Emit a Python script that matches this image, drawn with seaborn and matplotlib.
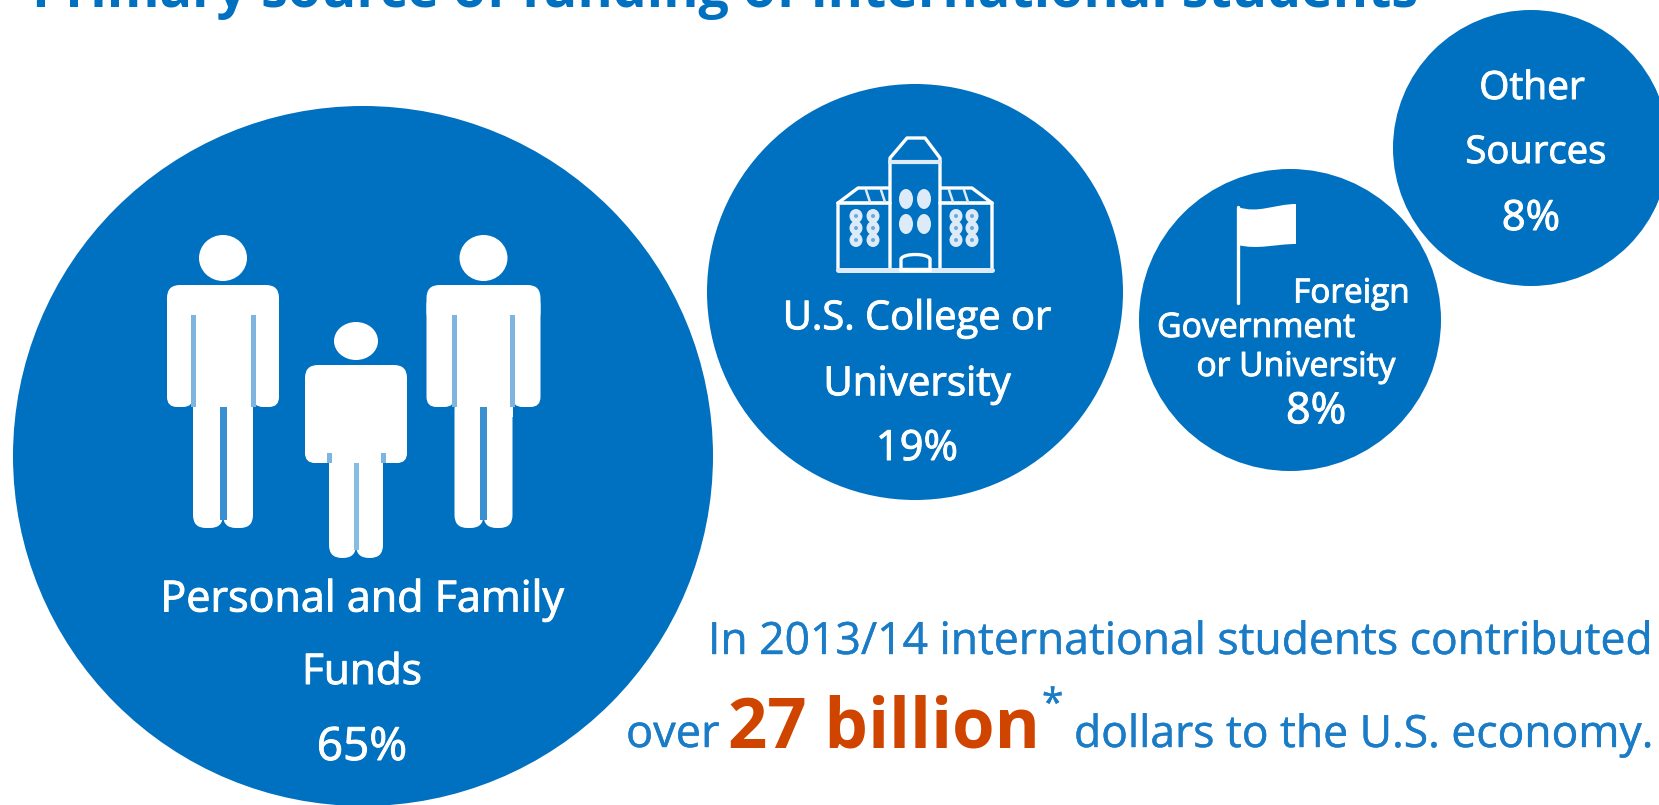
import matplotlib
matplotlib.use('Agg')
import matplotlib.patheffects as pe
import matplotlib.pyplot as plt
import pandas as pd
import seaborn as sns
from matplotlib.patches import Ellipse, FancyBboxPatch, PathPatch, Polygon, Rectangle
from matplotlib.path import Path

# Values
sources = ['Personal and Family Funds', 'U.S. College or University',
           'Foreign Government or University', 'Other Sources']
shares = [65, 19, 8, 8]
title = 'Primary source of funding of international students'
contrib_line1 = 'In 2013/14 international students contributed'
contrib_over = 'over'
contrib_amount = '27 billion'
contrib_rest = 'dollars to the U.S. economy.'

# Layout, in pixels of the 1659x805 picture
bubble_x = [363, 915, 1290, 1531]
bubble_y = [456, 292, 320, 148]
bubble_r = [350, 208, 151, 138]

BLUE = '#0070c0'
TEXT_BLUE = '#1a7cc6'
ORANGE = '#cf4500'
SLIT = '#7db5e0'
PALE = '#dcebf7'
FONT = 'Open Sans'
DPI = 100

sns.set_theme(style='white')
plt.rcParams['font.family'] = [FONT, 'DejaVu Sans']

df = pd.DataFrame({'source': sources, 'share': shares, 'x': bubble_x, 'y': bubble_y, 'r': bubble_r})
df['area'] = (2 * df['r'] * 72 / DPI) ** 2

fig = plt.figure(figsize=(16.59, 8.05), dpi=DPI)
ax = fig.add_axes([0, 0, 1, 1])
sns.scatterplot(data=df, x='x', y='y', s=df['area'].values, color=BLUE, linewidth=0, legend=False, ax=ax)
ax.set_xlim(0, 1659)
ax.set_ylim(805, 0)
ax.set_xlabel('')
ax.set_ylabel('')
ax.axis('off')


def label(x, y, s, size=29, color='white', ha='center', va='center', weight='normal', stroke=0.7):
    t = ax.text(x, y, s, fontsize=size, color=color, ha=ha, va=va, fontweight=weight)
    if stroke:
        t.set_path_effects([pe.withStroke(linewidth=stroke, foreground=color)])


def rbox(x0, y0, x1, y1, r, fc='white'):
    ax.add_patch(FancyBboxPatch((x0, y0), x1 - x0, y1 - y0, boxstyle=f'round,pad=0,rounding_size={r}', fc=fc, ec='none'))


def person(cx, head_y, head_rx, head_ry, half_w, leg_half, top, slit_top, arm_bottom, bottom, gap_w, gap_color):
    ax.add_patch(Ellipse((cx, head_y), 2 * head_rx, 2 * head_ry, fc='white', ec='none'))
    rbox(cx - half_w, top, cx + half_w, slit_top + 10, 13)
    rbox(cx - half_w, top + 10, cx - leg_half, arm_bottom, 10)
    rbox(cx + leg_half, top + 10, cx + half_w, arm_bottom, 10)
    ax.add_patch(Rectangle((cx - leg_half, top + 10), 2 * leg_half, arm_bottom - top, fc='white', ec='none'))
    rbox(cx - leg_half, arm_bottom - 10, cx, bottom, 13)
    rbox(cx, arm_bottom - 10, cx + leg_half, bottom, 13)
    ax.add_patch(Rectangle((cx - gap_w / 2, arm_bottom), gap_w, bottom - arm_bottom - 8, fc=gap_color, ec='none'))
    for side in (-1, 1):
        ax.add_patch(Rectangle((cx + side * leg_half - 2.5, slit_top), 5, arm_bottom - slit_top, fc=SLIT, ec='none'))


person(223, 258, 24, 23, 56, 30, 285, 315, 407, 528, 7, '#3a8fd0')
person(483.5, 258, 24, 23, 57, 29, 285, 315, 407, 528, 7, '#3a8fd0')
person(356, 341, 22, 19, 51, 27, 365, 453, 463, 558, 5, '#86bbe4')

# building icon
line = dict(fc='none', ec='white', lw=2.4, joinstyle='round')
ax.add_patch(Polygon([(838, 270), (838, 203), (858, 188), (892, 188), (892, 270)], closed=True, **line))
ax.add_patch(Polygon([(992, 270), (992, 203), (972, 188), (938, 188), (938, 270)], closed=True, **line))
ax.add_patch(Polygon([(890, 270), (890, 158), (907, 138), (925, 138), (940, 158), (940, 270)], closed=True,
                     fc=BLUE, ec='white', lw=2.4, joinstyle='round'))
ax.plot([890, 940], [162, 162], color=PALE, lw=3)
ax.plot([838, 890], [203, 203], color='white', lw=2.6)
ax.plot([940, 992], [203, 203], color='white', lw=2.6)
ax.plot([838, 992], [270, 270], color=PALE, lw=3.6)
for tx in (866, 881, 949, 964):
    ax.plot([tx, tx + 4], [190, 202], color=PALE, lw=1.8)
for wx in (856, 873, 956, 972):
    for wy in (216, 228, 240):
        ax.add_patch(Ellipse((wx, wy), 13, 14, fc=PALE, ec='none'))
        ax.add_patch(Ellipse((wx, wy), 4, 4, fc='#6aa9dc', ec='none'))
for wx in (906, 924):
    for wy in (199, 224):
        ax.add_patch(Ellipse((wx, wy), 14, 20, fc=PALE, ec='none'))
door = Path([(901, 271), (901, 259), (903, 253), (928, 253), (930, 259), (930, 271)],
            [Path.MOVETO, Path.LINETO, Path.CURVE4, Path.CURVE4, Path.CURVE4, Path.LINETO])
ax.add_patch(PathPatch(door, fc=BLUE, ec='white', lw=2.4))
ax.plot([901, 930], [270, 270], color='white', lw=3.2)

# flag icon
ax.plot([1238, 1238], [207, 303], color='white', lw=2.4)
flag = Path([(1238, 207), (1258, 214), (1275, 204), (1296, 204), (1296, 244), (1275, 244), (1258, 250), (1238, 245), (1238, 207)],
            [Path.MOVETO, Path.CURVE4, Path.CURVE4, Path.CURVE4, Path.LINETO, Path.CURVE4, Path.CURVE4, Path.CURVE4, Path.CLOSEPOLY])
ax.add_patch(PathPatch(flag, fc='white', ec='none'))

# bubble labels
label(362, 600, 'Personal and Family', size=31)
label(362, 673, 'Funds', size=30.5)
label(362, 748, f'{shares[0]}%', size=33)
label(917, 319, 'U.S. College or', size=28.7)
label(917, 385, 'University', size=29)
label(917, 449, f'{shares[1]}%', size=30)
label(1410, 294, 'Foreign', size=24, ha='right')
label(1256, 328, 'Government', size=24.3)
label(1296, 367, 'or University', size=24.2)
label(1316, 412, f'{shares[2]}%', size=31)
label(1532, 89, 'Other', size=28)
label(1536, 153, 'Sources', size=27.5)
label(1531, 219, f'{shares[3]}%', size=30)

# title is cut by the top edge
label(32, 7, title, size=38.7, color=BLUE, ha='left', va='baseline', weight='bold', stroke=0)

# contribution sentence
label(708, 654, contrib_line1, size=32, color=TEXT_BLUE, ha='left', va='baseline', stroke=0.3)
label(626, 747, contrib_over, size=32.5, color=TEXT_BLUE, ha='left', va='baseline', stroke=0.3)
label(728, 747, contrib_amount, size=49.6, color=ORANGE, ha='left', va='baseline', weight='bold', stroke=0)
label(1042, 716, '*', size=28, color=TEXT_BLUE, ha='left', va='baseline', stroke=0.3)
label(1074, 747, contrib_rest, size=32, color=TEXT_BLUE, ha='left', va='baseline', stroke=0.3)

fig.savefig('out.png', dpi=DPI)
